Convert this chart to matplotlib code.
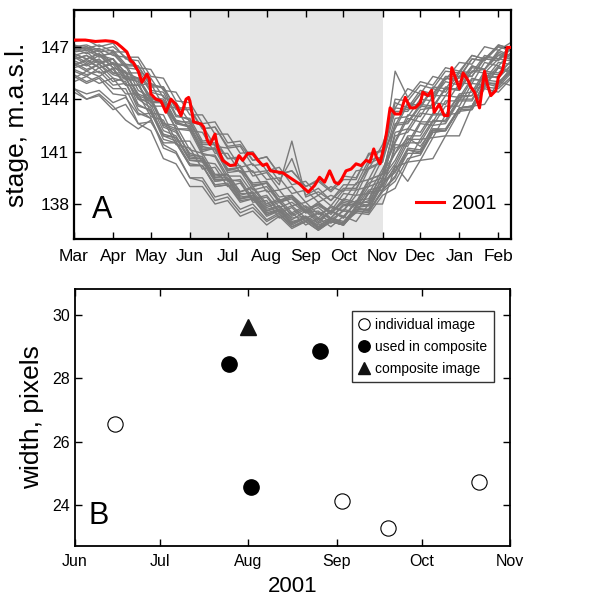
import numpy as np
import matplotlib
matplotlib.use("Agg")
import matplotlib.pyplot as plt
import matplotlib.dates as mdates

plt.rcParams['font.family'] = ['Liberation Sans', 'DejaVu Sans']

# ---------------- Panel A data ----------------
gray_dates = ["2001-03-01", "2001-03-11", "2001-03-21", "2001-04-01", "2001-04-11", "2001-04-21",
              "2001-05-01", "2001-05-11", "2001-05-21", "2001-06-01", "2001-06-11", "2001-06-21",
              "2001-07-01", "2001-07-11", "2001-07-21", "2001-08-01", "2001-08-11", "2001-08-21",
              "2001-09-01", "2001-09-11", "2001-09-21", "2001-10-01", "2001-10-11", "2001-10-21",
              "2001-11-01", "2001-11-11", "2001-11-21", "2001-12-01", "2001-12-11", "2001-12-21",
              "2002-01-01", "2002-01-11", "2002-01-21", "2002-02-01", "2002-02-10"]

other_years = [
    [147.1,146.8,146.9,146.5,146.4,145.6,145.2,144.1,143.8,142.7,142.5,141.3,141.2,140.1,140.3,139.4,139.5,138.6,138.8,138.1,138.5,138.2,139.2,139.4,140.9,142.3,143.7,143.5,144.6,144.4,145.5,145.3,146.3,146.2,146.8],
    [146.8,147.0,146.5,146.3,145.5,145.2,144.1,143.7,142.6,142.4,141.0,141.2,140.0,139.9,139.2,139.3,138.4,138.5,137.8,137.9,137.5,138.1,137.9,139.0,139.3,142.1,142.3,143.4,143.5,144.7,144.5,145.6,145.7,146.5,146.3],
    [146.5,146.1,146.5,145.8,145.5,144.3,144.0,142.4,142.1,140.9,140.7,139.5,139.5,138.6,138.6,137.7,137.9,137.2,137.3,136.9,137.2,137.0,137.8,137.9,139.3,140.3,141.7,141.7,142.8,142.7,144.0,144.0,145.2,145.3,145.8],
    [146.0,145.6,146.0,145.4,145.2,144.0,143.5,141.9,141.6,140.3,140.2,139.0,139.1,138.2,138.3,137.4,137.6,136.9,137.2,136.7,137.0,136.8,137.6,137.6,138.8,139.5,141.1,140.9,142.3,142.2,143.5,143.5,145.0,144.8,145.5],
    [147.0,147.1,146.8,147.0,146.4,146.4,145.3,145.2,143.9,143.8,142.6,142.7,141.5,141.6,140.5,140.7,139.7,139.9,139.0,139.3,138.7,139.4,139.4,140.9,141.0,144.0,143.9,144.8,144.6,145.6,145.5,146.5,146.3,147.1,146.9],
    [145.6,145.3,145.8,145.0,145.2,144.0,143.9,142.6,142.5,141.1,140.9,139.7,139.7,138.4,138.5,137.6,137.8,137.0,137.2,136.8,137.1,136.9,137.5,137.4,138.5,138.9,140.4,140.5,141.8,141.9,143.3,143.4,144.7,144.6,145.2],
    [146.3,146.5,146.1,146.3,145.2,145.0,143.2,143.1,141.6,141.6,140.4,140.3,139.3,139.4,138.3,138.5,137.6,137.9,137.2,137.5,137.2,137.9,138.0,139.4,139.7,142.6,142.7,143.7,143.6,144.6,144.5,145.6,145.5,146.3,146.2],
    [145.2,145.6,145.3,145.8,144.8,144.8,143.6,143.6,142.3,142.3,141.1,141.2,139.9,140.1,139.0,139.2,138.1,138.3,137.5,137.6,137.1,137.6,137.5,138.6,138.8,141.4,141.3,142.6,142.5,143.6,143.6,144.9,144.8,145.8,145.6],
    [146.6,146.3,146.6,146.0,146.0,144.8,144.9,143.6,143.5,142.2,142.1,140.9,140.9,139.8,139.9,138.7,138.8,137.9,138.1,137.4,137.8,137.6,138.5,138.6,140.0,141.6,143.1,143.0,144.2,144.2,145.3,145.3,146.4,146.3,146.8],
    [144.6,144.3,144.5,143.8,144.1,143.1,143.2,141.9,141.8,140.5,140.5,139.3,139.4,138.3,138.5,137.5,137.7,136.9,137.2,136.6,137.0,136.8,137.7,137.7,139.1,139.9,141.2,141.1,142.5,142.6,143.9,143.9,145.1,145.0,145.5],
    [146.9,146.6,146.8,146.0,145.9,144.5,144.1,142.6,142.3,140.7,140.6,139.4,139.4,138.3,138.4,137.4,137.7,136.9,137.3,136.7,137.2,136.9,137.8,138.0,139.5,140.9,142.3,142.1,143.2,143.1,144.2,144.2,145.4,145.2,145.9],
    [145.9,146.3,145.8,146.1,145.3,145.2,144.1,144.0,142.8,142.6,141.5,141.5,140.6,140.6,139.8,139.9,139.1,141.6,138.4,138.7,138.2,138.9,138.9,140.1,140.4,142.9,143.0,144.0,143.9,145.2,145.2,146.3,146.2,147.0,146.8],
    [146.7,146.8,146.4,146.7,145.9,145.9,144.7,144.7,143.4,143.4,142.3,142.4,141.2,141.3,140.2,140.3,139.3,140.6,138.5,138.9,138.2,139.1,139.1,140.5,140.7,143.8,143.5,144.5,144.3,145.3,145.3,146.3,146.2,147.1,146.9],
    [145.4,145.0,145.3,144.6,144.6,143.2,142.9,141.4,141.0,139.5,139.3,138.2,138.4,137.5,137.8,137.0,137.4,136.7,137.0,136.5,137.0,136.9,137.9,138.2,139.8,140.9,141.8,141.3,142.3,142.3,143.5,143.6,144.9,144.7,145.4],
    [146.2,145.9,146.2,145.5,145.5,144.2,143.9,142.5,142.2,140.8,140.7,139.6,139.7,138.7,138.9,137.9,138.2,137.3,137.7,137.0,137.6,137.2,138.1,138.1,139.5,140.5,141.9,141.9,143.1,143.1,144.3,144.4,145.6,145.5,146.1],
    [147.1,146.9,147.1,146.7,146.7,145.8,145.7,144.5,144.4,143.1,143.1,142.0,142.0,140.9,141.0,139.9,140.1,139.1,139.3,138.5,139.0,138.7,139.9,140.0,141.4,143.5,144.6,144.3,145.3,145.1,146.1,146.0,147.0,146.8,147.2],
    [146.4,146.0,146.3,145.5,145.3,143.7,143.3,141.7,141.5,140.2,140.2,139.1,139.2,138.3,138.5,137.6,137.9,137.1,137.6,136.9,137.6,137.2,138.2,138.3,139.8,141.5,142.9,142.7,143.8,143.7,144.9,144.9,146.1,145.9,146.6],
    [145.8,146.0,145.5,145.7,144.8,144.8,143.8,143.8,142.7,142.7,141.4,141.4,140.2,140.2,139.1,139.2,138.2,138.4,137.5,137.8,137.2,138.0,137.8,138.8,139.0,141.2,141.5,142.7,142.7,143.9,143.9,145.1,145.1,146.1,146.0],
    [146.1,145.7,146.0,145.2,145.0,143.4,142.9,141.2,140.9,139.5,139.5,138.4,138.6,137.7,138.0,137.1,137.5,136.7,137.1,136.6,137.1,136.9,137.8,137.6,138.7,139.3,140.6,140.8,142.1,142.2,143.5,143.6,144.9,144.9,145.7],
    [146.8,146.9,146.5,146.6,145.8,145.7,144.5,144.4,143.0,142.9,141.6,141.7,140.6,140.7,139.6,139.8,138.8,139.0,138.1,138.5,137.9,138.8,138.8,140.3,140.7,143.3,143.3,144.3,144.2,145.2,145.0,145.9,145.7,146.6,146.3],
    [144.4,144.0,144.2,143.4,143.7,142.6,142.7,141.5,141.5,140.2,140.2,139.0,139.1,138.1,138.3,137.3,137.6,136.8,137.2,136.6,137.0,136.8,137.7,137.7,139.2,139.8,141.1,141.0,142.2,142.2,143.4,143.4,144.6,144.4,145.1],
    [146.5,146.7,146.1,146.3,145.2,145.2,143.9,143.8,142.3,142.2,140.8,140.8,139.6,139.6,138.6,138.8,137.8,138.1,137.5,138.0,137.6,138.6,138.5,140.0,140.4,145.6,144.1,145.0,144.8,145.8,145.6,146.5,146.3,147.0,146.8],
    [145.7,145.4,145.6,144.8,144.9,143.6,143.4,142.0,141.8,140.5,140.4,139.3,139.4,138.5,138.7,137.8,138.1,137.4,137.8,137.1,137.6,137.3,138.1,137.9,139.1,140.1,141.5,141.5,142.7,142.8,144.1,144.2,145.5,145.4,146.1],
    [147.3,147.4,147.0,147.2,146.3,146.2,144.9,144.6,143.1,142.8,141.3,141.1,139.8,139.9,138.8,139.0,138.1,138.4,137.6,138.1,137.5,138.3,138.1,139.4,139.7,142.5,142.6,143.6,143.5,144.6,144.6,145.8,145.7,146.7,146.4],
    [146.0,146.2,145.8,146.0,145.1,145.1,144.0,143.9,142.6,142.5,141.2,141.2,140.0,140.1,139.0,139.2,138.2,138.5,137.6,138.0,137.4,138.2,138.0,139.2,139.5,141.9,142.1,143.2,143.1,144.2,144.1,145.2,145.0,145.9,145.6],
    [145.0,145.3,144.9,145.2,144.3,144.3,143.0,142.8,141.4,141.2,140.0,140.1,139.0,139.2,138.2,138.4,137.5,137.8,137.0,137.5,136.9,137.7,137.5,138.7,138.8,140.2,139.3,140.5,140.6,141.9,141.9,143.6,143.7,145.0,144.8],
    [146.6,146.3,146.6,145.8,145.6,144.1,143.7,142.2,141.9,140.6,140.6,139.5,139.7,138.7,139.0,138.0,138.3,137.5,137.9,137.2,137.9,137.6,138.8,139.0,140.6,142.5,143.8,143.6,144.7,144.6,145.6,145.5,146.5,146.3,147.0],
    [146.3,146.5,146.0,146.3,145.5,145.5,144.4,144.2,142.7,142.4,140.9,140.7,139.4,139.3,138.1,138.2,137.2,137.5,136.8,137.2,136.7,137.3,137.0,138.0,138.0,140.1,140.4,141.7,141.8,143.1,143.2,144.6,144.7,145.8,145.5],
    [145.3,144.9,145.2,144.3,144.2,142.6,142.2,140.6,140.3,139.0,139.0,138.0,138.2,137.3,137.6,136.8,137.3,136.6,137.0,136.5,137.0,136.8,137.6,137.5,138.8,139.6,140.9,140.9,142.1,142.2,143.5,143.6,144.9,144.9,145.6],
    [146.9,147.0,146.7,146.8,146.0,145.9,144.8,144.7,143.5,143.5,142.3,142.4,141.3,141.4,140.5,140.7,139.7,139.9,139.0,139.4,138.8,139.6,139.5,140.8,141.1,143.5,143.4,144.3,144.1,145.0,144.8,145.9,145.7,146.8,146.5],
    [144.6,144.0,144.3,143.6,142.8,142.3,142.8,np.nan,np.nan,np.nan,np.nan,np.nan,np.nan,np.nan,np.nan,np.nan,np.nan,np.nan,np.nan,np.nan,np.nan,np.nan,np.nan,np.nan,np.nan,np.nan,np.nan,np.nan,np.nan,np.nan,np.nan,np.nan,np.nan,np.nan,np.nan],
]

red_dates = ["2001-03-02","2001-03-10","2001-03-18","2001-03-26","2001-04-01","2001-04-04","2001-04-08",
             "2001-04-12","2001-04-15","2001-04-17","2001-04-21","2001-04-24","2001-04-28","2001-04-30",
             "2001-05-01","2001-05-05","2001-05-09","2001-05-13","2001-05-17","2001-05-21","2001-05-25",
             "2001-05-29","2001-05-31","2001-06-01","2001-06-04","2001-06-10","2001-06-12","2001-06-15",
             "2001-06-17","2001-06-21","2001-06-23","2001-06-27","2001-07-03","2001-07-07","2001-07-10",
             "2001-07-13","2001-07-17","2001-07-21","2001-07-25","2001-07-29","2001-08-01","2001-08-04",
             "2001-08-14","2001-08-19","2001-08-27","2001-09-03","2001-09-08","2001-09-12","2001-09-16",
             "2001-09-20","2001-09-24","2001-09-27","2001-09-29","2001-10-03","2001-10-07","2001-10-11",
             "2001-10-15","2001-10-19","2001-10-22","2001-10-25","2001-10-27","2001-10-30","2001-11-02",
             "2001-11-04","2001-11-07","2001-11-11","2001-11-15","2001-11-19","2001-11-23","2001-11-27",
             "2001-12-01","2001-12-03","2001-12-07","2001-12-10","2001-12-12","2001-12-16","2001-12-20",
             "2001-12-23","2001-12-26","2001-12-28","2002-01-01","2002-01-04","2002-01-08","2002-01-10",
             "2002-01-13","2002-01-17","2002-01-21","2002-01-23","2002-01-26","2002-01-30","2002-02-01",
             "2002-02-04","2002-02-06","2002-02-08","2002-02-10"]
red_values = [147.38,147.38,147.30,147.34,147.30,147.20,146.96,146.70,146.20,146.10,145.60,144.96,145.44,145.10,
              144.30,144.00,143.90,143.25,144.00,143.70,143.06,144.00,144.10,143.90,142.70,142.58,142.40,141.63,
              141.40,142.00,141.25,140.50,140.20,140.24,140.77,140.50,140.90,140.87,140.50,140.20,140.30,139.90,
              139.78,139.53,139.15,138.68,139.06,139.53,139.25,139.90,139.25,139.15,139.34,139.90,140.00,140.30,
              140.20,140.50,140.40,141.15,140.70,140.30,141.25,142.00,143.50,143.15,143.15,144.10,143.50,143.50,
              143.80,144.40,144.20,144.50,143.25,143.70,143.06,143.06,145.80,145.40,144.60,145.50,145.06,144.70,
              144.40,143.50,145.60,144.90,144.20,144.50,145.25,145.60,146.20,146.96,146.96]

shade_start, shade_end = "2001-06-01", "2001-11-01"
a_yticks = [138, 141, 144, 147]

# ---------------- Panel B data ----------------
indiv_dates = ["2001-06-15", "2001-09-03", "2001-09-19", "2001-10-21"]
indiv_width = [26.55, 24.15, 23.29, 24.72]
used_dates = ["2001-07-25", "2001-08-02", "2001-08-26"]
used_width = [28.46, 24.58, 28.87]
comp_dates = ["2001-08-01"]
comp_width = [29.6]
b_yticks = [24, 26, 28, 30]


def d(lst):
    return np.array(lst, dtype="datetime64[D]")


fig = plt.figure(figsize=(6.10, 6.02), dpi=100)
axA = fig.add_axes([0.1213, 0.603, 0.7164, 0.3804])
axB = fig.add_axes([0.123, 0.093, 0.713, 0.427])

# Panel A
axA.axvspan(d([shade_start])[0], d([shade_end])[0], color="#e6e6e6", lw=0, zorder=0)
gd = d(gray_dates)
for yr in other_years:
    axA.plot(gd, yr, color="#7a7a7a", lw=1.0, zorder=1)
axA.plot(d(red_dates), red_values, color="#ff0000", lw=2.2, zorder=3, label="2001")
axA.set_xlim(np.datetime64("2001-03-01"), np.datetime64("2002-02-11"))
axA.set_ylim(136.0, 149.1)
axA.set_yticks(a_yticks)
axA.xaxis.set_major_locator(mdates.MonthLocator())
axA.xaxis.set_major_formatter(mdates.DateFormatter("%b"))
axA.tick_params(axis="both", direction="in", top=True, right=True, length=5, width=1, labelsize=12.5)
axA.tick_params(axis="x", pad=7)
axA.set_ylabel("stage, m.a.s.l.", fontsize=19, labelpad=8)
for s in axA.spines.values():
    s.set_linewidth(1.6)
axA.text(0.04, 0.06, "A", transform=axA.transAxes, fontsize=22, ha="left", va="bottom")
axA.legend(loc="lower right", frameon=False, fontsize=14.5, handlelength=1.4,
           borderaxespad=0.3, handletextpad=0.4, bbox_to_anchor=(1.0, 0.05))

# Panel B
ms = 11
axB.plot(d(indiv_dates), indiv_width, "o", ms=ms, mfc="white", mec="black", mew=0.8, label="individual image")
axB.plot(d(used_dates), used_width, "o", ms=ms, mfc="black", mec="black", label="used in composite")
axB.plot(d(comp_dates), comp_width, "^", ms=ms + 1, mfc="#111111", mec="#111111", label="composite image")
axB.set_xlim(np.datetime64("2001-06-01"), np.datetime64("2001-11-01"))
axB.set_ylim(22.72, 30.81)
axB.set_yticks(b_yticks)
axB.xaxis.set_major_locator(mdates.MonthLocator())
axB.xaxis.set_major_formatter(mdates.DateFormatter("%b"))
axB.tick_params(axis="both", direction="in", top=True, right=True, length=5, width=1, labelsize=11.5)
axB.tick_params(axis="x", pad=6)
axB.set_ylabel("width, pixels", fontsize=19, labelpad=6)
axB.set_xlabel("2001", fontsize=16, labelpad=5)
for s in axB.spines.values():
    s.set_linewidth(1.3)
axB.text(0.03, 0.06, "B", transform=axB.transAxes, fontsize=22, ha="left", va="bottom")
legB = axB.legend(loc="upper right", fontsize=10, frameon=True, fancybox=False, edgecolor="black",
                  handlelength=0.8, handletextpad=0.4, borderpad=0.5, labelspacing=0.55,
                  markerscale=0.75, bbox_to_anchor=(0.98, 0.94))
legB.get_frame().set_linewidth(1.0)

fig.savefig("out.png", dpi=100)
